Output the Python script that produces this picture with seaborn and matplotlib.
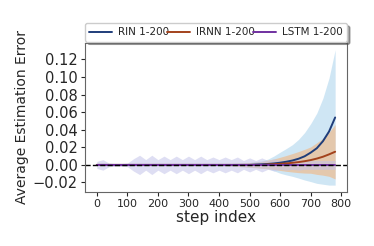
import numpy as np
import pandas as pd
import seaborn as sns
import matplotlib
matplotlib.use("Agg")
import matplotlib.pyplot as plt

# step index, sampled every 20 steps
steps = list(range(0, 800, 20))

rin_mean = [0.0] * 26 + [0.0004, 0.0007, 0.0011, 0.0017, 0.0025, 0.0036, 0.005,
                         0.007, 0.0098, 0.014, 0.019, 0.027, 0.038, 0.054]
rin_std = [0.001] * 21 + [0.0012, 0.0015, 0.0018, 0.0022, 0.0027, 0.0033, 0.004, 0.0055,
                          0.0085, 0.012, 0.015, 0.018, 0.022, 0.027, 0.033, 0.040,
                          0.049, 0.061, 0.077]

irnn_mean = [0.0] * 28 + [0.0005, 0.0008, 0.0012, 0.0017, 0.0024, 0.0032, 0.0042,
                          0.0055, 0.0072, 0.0093, 0.012, 0.015]
irnn_std = [0.001] * 21 + [0.0012, 0.0015, 0.0018, 0.0022, 0.0027, 0.0033, 0.004, 0.005,
                           0.006, 0.0075, 0.009, 0.0105, 0.012, 0.0135, 0.015, 0.018,
                           0.021, 0.025, 0.031]

lstm_mean = [0.0] * 40
lstm_std = [0.004, 0.006, 0.002, 0.0015, 0.0015, 0.002, 0.007, 0.011, 0.006, 0.011,
            0.006, 0.010, 0.006, 0.010, 0.006, 0.010, 0.006, 0.010, 0.006, 0.009,
            0.006, 0.009, 0.006, 0.009, 0.005, 0.008, 0.005, 0.008, 0.005, 0.007,
            0.005, 0.006, 0.005, 0.006, 0.005, 0.005, 0.005, 0.005, 0.005, 0.005]

labels = ["RIN 1-200", "IRNN 1-200", "LSTM 1-200"]
line_colors = ["#1f3d7a", "#a3421c", "#7030a0"]
band_colors = ["#a9d2ec", "#f0b888", "#c4c4ea"]
band_alpha = [0.55, 0.65, 0.55]

df = pd.concat([
    pd.DataFrame({"step": steps, "mean": rin_mean, "std": rin_std, "model": labels[0]}),
    pd.DataFrame({"step": steps, "mean": irnn_mean, "std": irnn_std, "model": labels[1]}),
    pd.DataFrame({"step": steps, "mean": lstm_mean, "std": lstm_std, "model": labels[2]}),
])

sns.set_style("ticks")
fig = plt.figure(figsize=(3.74, 2.46), dpi=100)
ax = fig.add_axes([0.227, 0.22, 0.701, 0.605])

for lab, bc, a in zip(labels, band_colors, band_alpha):
    d = df[df["model"] == lab]
    ax.fill_between(d["step"], d["mean"] - d["std"], d["mean"] + d["std"],
                    color=bc, alpha=a, linewidth=0)

sns.lineplot(data=df, x="step", y="mean", hue="model", palette=line_colors,
             linewidth=1.4, ax=ax)
ax.axhline(0, color="black", linestyle="--", linewidth=1)

ax.set_yticks([-0.02, 0.0, 0.02, 0.04, 0.06, 0.08, 0.10, 0.12])
ax.set_yticklabels(["\u22120.02", "0.00", "0.02", "0.04", "0.06", "0.08", "0.10", "0.12"])
ax.set_xticks(range(0, 900, 100))
ax.tick_params(axis="y", labelsize=10.5, length=3, pad=2)
ax.tick_params(axis="x", labelsize=8, length=3, pad=2)
ax.set_xlabel("step index", fontsize=11, labelpad=1)
ax.set_ylabel("Average Estimation Error", fontsize=10, labelpad=3)
for s in ax.spines.values():
    s.set_color("#666666")
    s.set_linewidth(0.8)

ax.legend(loc="lower left", bbox_to_anchor=(0, 1.01, 1, 0.2), mode="expand", ncol=3,
          fontsize=7.5, frameon=True, shadow=True, fancybox=True, borderaxespad=0,
          handlelength=2.2, columnspacing=0.2, handletextpad=0.6, borderpad=0.4)

fig.savefig("out.png", dpi=100)
